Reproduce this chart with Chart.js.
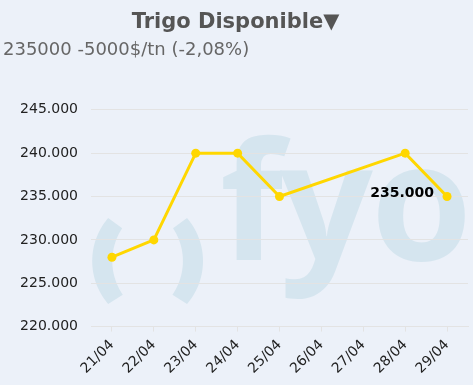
<!DOCTYPE html>
<html>
<head>
<meta charset="utf-8">
<script src="https://cdn.jsdelivr.net/npm/chart.js@4"></script>
<style>
  html, body { margin:0; padding:0; background:#ecf1f9; }
  #wrap { width:473px; height:385px; position:relative; }
</style>
</head>
<body>
<div id="wrap"><canvas id="c" width="473" height="385"></canvas></div>
<script>
const categories = ['21/04','22/04','23/04','24/04','25/04','26/04','27/04','28/04','29/04'];
const prices = [228000, 230000, 240000, 240000, 235000, null, null, 240000, 235000];
const titleText = 'Trigo Disponible\u25BC';
const subtitleText = '235000 -5000$/tn (-2,08%)';
const lastLabel = '235.000';

function fmt(v) {
  return String(v).replace(/\B(?=(\d{3})+(?!\d))/g, '.');
}

function paren(ctx, mirror) {
  const X = x => mirror ? 295.2 - x : x;
  ctx.beginPath();
  const oc = 158, oy = 261, or = 65.8;
  const ic = 171.8, iy = 261, ir = 59.5;
  const N = 30;
  const a0 = 2.43, a1 = 3.853, b0 = 3.726, b1 = 2.539;
  for (let i = 0; i <= N; i++) {
    const a = a0 + (a1 - a0) * i / N;
    const x = oc + or * Math.cos(a), y = oy + or * Math.sin(a);
    if (i === 0) ctx.moveTo(X(x), y); else ctx.lineTo(X(x), y);
  }
  for (let i = 0; i <= N; i++) {
    const a = b0 + (b1 - b0) * i / N;
    const x = ic + ir * Math.cos(a), y = iy + ir * Math.sin(a);
    ctx.lineTo(X(x), y);
  }
  ctx.closePath();
  ctx.fill();
}

const watermark = {
  id: 'watermark',
  beforeDraw(chart) {
    const ctx = chart.ctx;
    ctx.save();
    ctx.fillStyle = '#ecf1f9';
    ctx.fillRect(0, 0, chart.width, chart.height);
    ctx.fillStyle = '#d5e5ef';
    paren(ctx, false);
    paren(ctx, true);
    ctx.font = 'bold 100px "Open Sans", sans-serif';
    const mo = ctx.measureText('o');
    const s = 100 * 93 / (mo.actualBoundingBoxAscent + mo.actualBoundingBoxDescent);
    ctx.font = 'bold ' + s.toFixed(1) + 'px "Open Sans", sans-serif';
    ctx.textBaseline = 'alphabetic';
    ctx.textAlign = 'left';
    const glyphs = [['f', 223], ['y', 280], ['o', 378]];
    for (const [g, left] of glyphs) {
      const m = ctx.measureText(g);
      ctx.fillText(g, left + m.actualBoundingBoxLeft, 260);
    }
    ctx.restore();
  }
};

const lastValueLabel = {
  id: 'lastValueLabel',
  afterDatasetsDraw(chart) {
    const meta = chart.getDatasetMeta(0);
    const pt = meta.data[meta.data.length - 1];
    const ctx = chart.ctx;
    ctx.save();
    ctx.font = 'bold 14px "DejaVu Sans", sans-serif';
    ctx.fillStyle = '#000';
    ctx.textAlign = 'right';
    ctx.textBaseline = 'middle';
    ctx.fillText(lastLabel, pt.x - 13, pt.y - 3);
    ctx.restore();
  }
};

new Chart(document.getElementById('c'), {
  type: 'line',
  data: {
    labels: categories,
    datasets: [{
      data: prices,
      borderColor: '#ffd700',
      backgroundColor: '#ffd700',
      borderWidth: 3,
      pointRadius: 4.5,
      pointHoverRadius: 4.5,
      pointBackgroundColor: '#ffd700',
      pointBorderWidth: 0,
      tension: 0,
      spanGaps: true
    }]
  },
  options: {
    responsive: false,
    animation: false,
    devicePixelRatio: 1,
    layout: { padding: { left: 3, right: 5, top: 0, bottom: 3 } },
    plugins: {
      legend: { display: false },
      tooltip: { enabled: false },
      title: {
        display: true,
        text: titleText,
        color: '#555555',
        font: { family: '"DejaVu Sans", Verdana, sans-serif', size: 21, weight: 'bold' },
        padding: { top: 10, bottom: 4 }
      },
      subtitle: {
        display: true,
        text: subtitleText,
        align: 'start',
        color: '#666666',
        font: { family: '"DejaVu Sans", Verdana, sans-serif', size: 18, weight: 'normal' },
        padding: { top: 0, bottom: 49 }
      }
    },
    scales: {
      x: {
        offset: true,
        grid: { display: true, drawOnChartArea: false, drawTicks: true, tickLength: 5, color: '#e3e3e3' },
        border: { display: true, color: '#e3e3e3' },
        ticks: {
          color: '#222',
          maxRotation: 45, minRotation: 45,
          font: { family: '"DejaVu Sans", Verdana, sans-serif', size: 14 },
          padding: 5
        }
      },
      y: {
        min: 220000,
        max: 245000,
        afterFit(scale) { scale.width = 88; },
        grid: { color: '#e3e3e3', drawTicks: false },
        border: { display: false },
        ticks: {
          stepSize: 5000,
          color: '#222',
          padding: 13,
          font: { family: '"DejaVu Sans", Verdana, sans-serif', size: 14 },
          callback: v => fmt(v)
        }
      }
    }
  },
  plugins: [watermark, lastValueLabel]
});
</script>
</body>
</html>
